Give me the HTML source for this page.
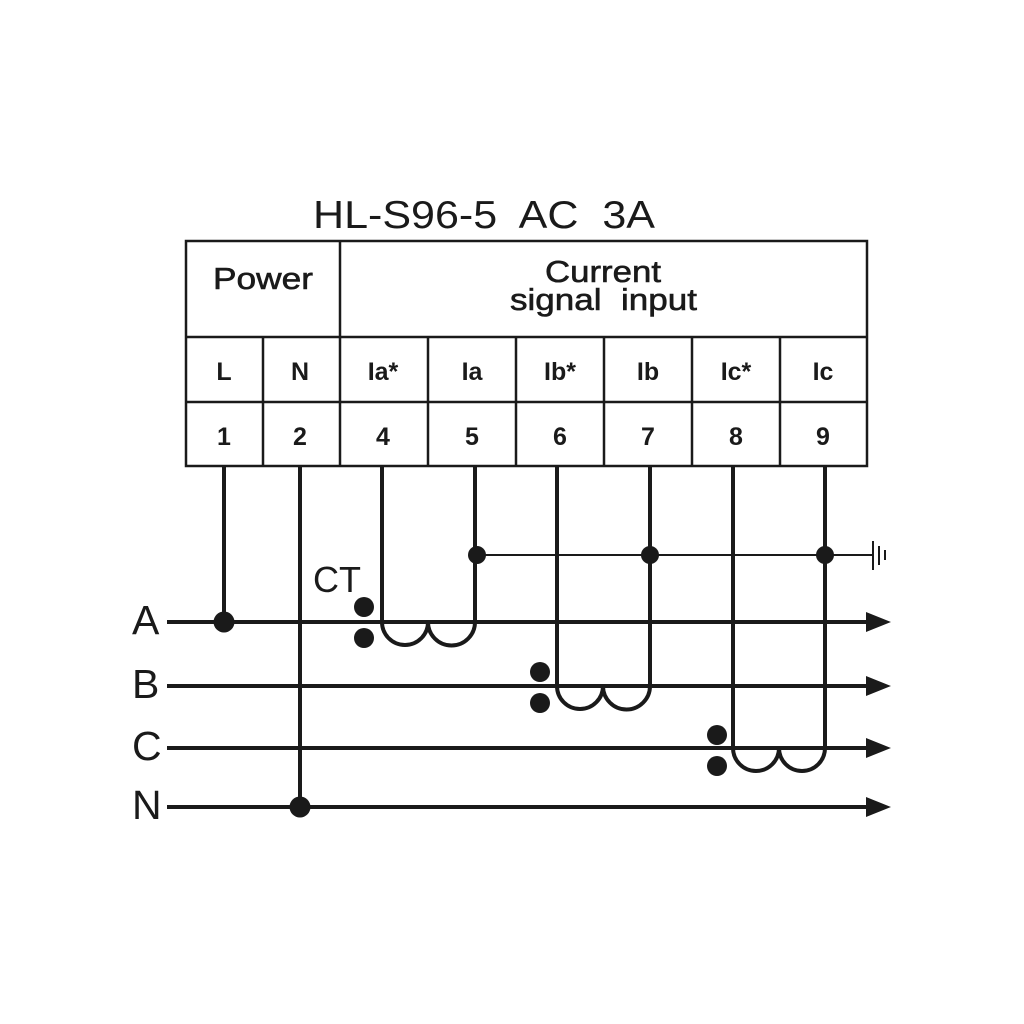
<!DOCTYPE html>
<html><head><meta charset="utf-8"><style>
html,body{margin:0;padding:0;background:#fff;width:1024px;height:1024px;overflow:hidden}
svg{display:block}
text{font-family:"Liberation Sans",sans-serif;fill:#1a1a1a;white-space:pre}
</style></head><body>
<svg width="1024" height="1024" viewBox="0 0 1024 1024" xmlns="http://www.w3.org/2000/svg">
<rect width="1024" height="1024" fill="#fff"/>
<text x="313" y="228" font-size="39" textLength="342" lengthAdjust="spacingAndGlyphs">HL-S96-5  AC  3A</text>
<g stroke="#1a1a1a" stroke-width="2.5" fill="none">
<rect x="186" y="241" width="681" height="225"/>
<line x1="186" y1="337" x2="867" y2="337"/>
<line x1="186" y1="402" x2="867" y2="402"/>
<line x1="340" y1="241" x2="340" y2="466"/>
<line x1="263" y1="337" x2="263" y2="466"/>
<line x1="428" y1="337" x2="428" y2="466"/>
<line x1="516" y1="337" x2="516" y2="466"/>
<line x1="604" y1="337" x2="604" y2="466"/>
<line x1="692" y1="337" x2="692" y2="466"/>
<line x1="780" y1="337" x2="780" y2="466"/>
</g>
<g font-size="31" stroke="#1a1a1a" stroke-width="0.6">
<text x="213" y="289" textLength="100" lengthAdjust="spacingAndGlyphs">Power</text>
<text x="545" y="282" textLength="116" lengthAdjust="spacingAndGlyphs">Current</text>
<text x="510" y="310" textLength="187" lengthAdjust="spacingAndGlyphs">signal  input</text>
</g>
<g font-size="25" text-anchor="middle" font-weight="bold">
<text x="224" y="380">L</text><text x="300" y="380">N</text>
<text x="383" y="380">Ia*</text><text x="472" y="380">Ia</text>
<text x="560" y="380">Ib*</text><text x="648" y="380">Ib</text>
<text x="736" y="380">Ic*</text><text x="823" y="380">Ic</text>
<text x="224" y="445">1</text><text x="300" y="445">2</text>
<text x="383" y="445">4</text><text x="472" y="445">5</text>
<text x="560" y="445">6</text><text x="648" y="445">7</text>
<text x="736" y="445">8</text><text x="823" y="445">9</text>
</g>
<g font-size="41">
<text x="132" y="634">A</text><text x="132" y="698">B</text>
<text x="132" y="760">C</text><text x="132" y="819">N</text>
<text x="313" y="592" font-size="36">CT</text>
</g>
<g stroke="#1a1a1a" stroke-width="4" fill="none">
<line x1="167" y1="622" x2="875" y2="622"/>
<line x1="167" y1="686" x2="875" y2="686"/>
<line x1="167" y1="748" x2="875" y2="748"/>
<line x1="167" y1="807" x2="875" y2="807"/>
<line x1="224" y1="466" x2="224" y2="622"/>
<line x1="300" y1="466" x2="300" y2="807"/>
<path d="M382 466 V622 A23 23 0 0 0 428 622 A23 23 0 0 0 475 622 V466"/>
<path d="M557 466 V686 A23 23 0 0 0 603 686 A23 23 0 0 0 650 686 V466"/>
<path d="M733 466 V748 A23 23 0 0 0 779 748 A23 23 0 0 0 825 748 V466"/>
</g>
<g stroke="#1a1a1a" stroke-width="2" fill="none">
<line x1="477" y1="555" x2="873" y2="555"/>
<line x1="873" y1="541" x2="873" y2="570"/>
<line x1="879" y1="546" x2="879" y2="565"/>
<line x1="885" y1="550" x2="885" y2="560"/>
</g>
<g fill="#1a1a1a">
<polygon points="866,612 891,622 866,632"/>
<polygon points="866,676 891,686 866,696"/>
<polygon points="866,738 891,748 866,758"/>
<polygon points="866,797 891,807 866,817"/>
<circle cx="224" cy="622" r="10.5"/>
<circle cx="300" cy="807" r="10.5"/>
<circle cx="477" cy="555" r="9"/>
<circle cx="650" cy="555" r="9"/>
<circle cx="825" cy="555" r="9"/>
<circle cx="364" cy="607" r="10"/><circle cx="364" cy="638" r="10"/>
<circle cx="540" cy="672" r="10"/><circle cx="540" cy="703" r="10"/>
<circle cx="717" cy="735" r="10"/><circle cx="717" cy="766" r="10"/>
</g>
</svg>
</body></html>
